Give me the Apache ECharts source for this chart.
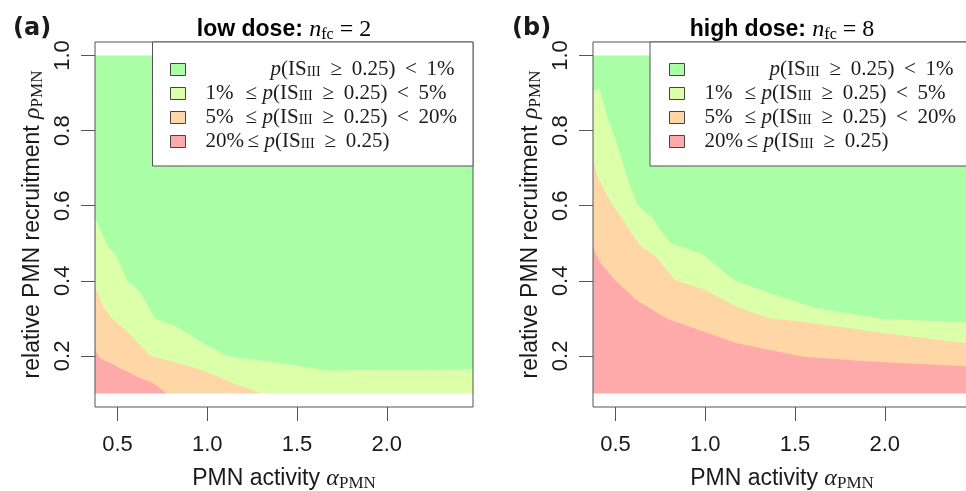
<!DOCTYPE html>
<html lang="en">
<head>
<meta charset="UTF-8">
<title>PMN activity vs recruitment regions</title>
<script src="https://cdn.jsdelivr.net/npm/echarts@6/dist/echarts.min.js"></script>
<style>
  html, body { margin: 0; padding: 0; background: #fff; }
  #chart { width: 966px; height: 491px; }
</style>
</head>
<body>
<div id="chart"></div>
<script>
// axis ranges and ticks (same for both panels)
var xRange = [0.375, 2.48];
var yRange = [0.064, 1.036];
var xTicks = [0.5, 1.0, 1.5, 2.0];
var yTicks = [0.2, 0.4, 0.6, 0.8, 1.0];
var yFloor = [0.1, 0.1];
var yCeil = [1.0, 1.0];

// region names (legend order: green, yellow, orange, red)
var regionNames = ['lt1', 'lt5', 'lt20', 'ge20'];
var regionColors = ['#aaffa6', '#dcffaa', '#ffd6a6', '#ffaaaa'];

// panel (a) low dose, upper edge of each band
var lowYellowX = [0.375, 0.404, 0.45, 0.497, 0.552, 0.626, 0.71, 0.831, 0.979, 1.109, 1.406, 1.675, 1.963, 2.48];
var lowYellowY = [0.57, 0.535, 0.491, 0.464, 0.402, 0.371, 0.30, 0.278, 0.234, 0.20, 0.181, 0.161, 0.163, 0.165];
var lowOrangeX = [0.375, 0.422, 0.469, 0.533, 0.626, 0.682, 0.831, 0.998, 1.146, 1.304];
var lowOrangeY = [0.383, 0.331, 0.30, 0.274, 0.229, 0.20, 0.182, 0.158, 0.127, 0.1];
var lowRedX = [0.375, 0.404, 0.441, 0.533, 0.626, 0.70, 0.775];
var lowRedY = [0.216, 0.194, 0.185, 0.163, 0.141, 0.127, 0.1];

// panel (b) high dose
var highYellowX = [0.375, 0.41, 0.457, 0.503, 0.559, 0.62, 0.66, 0.70, 0.75, 0.81, 0.9, 0.99, 1.16, 1.36, 1.62, 2.0, 2.48];
var highYellowY = [0.905, 0.912, 0.832, 0.774, 0.686, 0.604, 0.585, 0.571, 0.535, 0.50, 0.486, 0.469, 0.402, 0.367, 0.327, 0.298, 0.29];
var highOrangeX = [0.375, 0.40, 0.467, 0.541, 0.636, 0.70, 0.726, 0.831, 0.998, 1.175, 1.36, 1.546, 2.01, 2.48];
var highOrangeY = [0.73, 0.677, 0.615, 0.562, 0.495, 0.473, 0.464, 0.402, 0.376, 0.331, 0.30, 0.291, 0.26, 0.232];
var highRedX = [0.375, 0.412, 0.496, 0.617, 0.784, 0.989, 1.175, 1.36, 1.546, 1.918, 2.48];
var highRedY = [0.491, 0.451, 0.402, 0.349, 0.30, 0.265, 0.234, 0.216, 0.198, 0.185, 0.172];

var sans = 'Liberation Sans';
var serif = 'Liberation Serif';
var ink = '#1a1a1a';
var boxColor = '#555';

function pairs(xs, ys) {
  return xs.map(function (x, i) { return [x, ys[i]]; });
}

function band(name, xs, ys, color, idx) {
  return {
    type: 'line', name: name, xAxisIndex: idx, yAxisIndex: idx,
    data: pairs(xs, ys), symbol: 'none', showSymbol: false, silent: true,
    lineStyle: { width: 0 }, itemStyle: { color: color },
    areaStyle: { color: color, opacity: 1, origin: 'start' },
    animation: false
  };
}

function panelSeries(idx, yel, ora, red) {
  return [
    band(regionNames[0], xRange, yCeil, regionColors[0], idx),
    band(regionNames[1], yel[0], yel[1], regionColors[1], idx),
    band(regionNames[2], ora[0], ora[1], regionColors[2], idx),
    band(regionNames[3], red[0], red[1], regionColors[3], idx),
    band('floor', xRange, yFloor, '#ffffff', idx)
  ];
}

var nameRich = {
  t: { fontFamily: sans, fontSize: 23, lineHeight: 26, color: ink },
  g: { fontFamily: serif, fontStyle: 'italic', fontSize: 24, lineHeight: 26, color: ink },
  s: { fontFamily: serif, fontSize: 17, lineHeight: 11, verticalAlign: 'bottom', color: ink }
};

function xAxisFor(idx) {
  return {
    type: 'value', gridIndex: idx, min: xRange[0], max: xRange[1],
    axisLine: { show: false }, splitLine: { show: false },
    axisTick: { show: true, length: 14, customValues: xTicks, lineStyle: { color: boxColor } },
    axisLabel: {
      customValues: xTicks, margin: 27, fontSize: 22, fontFamily: sans, color: ink,
      formatter: function (v) { return v.toFixed(1); }
    },
    name: '{t|PMN activity }{g|α}{s|PMN}', nameLocation: 'middle', nameGap: 59,
    nameTextStyle: { rich: nameRich }
  };
}

function yAxisFor(idx) {
  return {
    type: 'value', gridIndex: idx, min: yRange[0], max: yRange[1],
    axisLine: { show: false }, splitLine: { show: false },
    axisTick: { show: true, length: 14, customValues: yTicks, lineStyle: { color: boxColor } },
    axisLabel: {
      customValues: yTicks, rotate: 90, margin: 21, fontSize: 22, fontFamily: sans, color: ink,
      formatter: function (v) { return v.toFixed(1); }
    },
    name: '{t|relative PMN recruitment }{g|ρ}{s|PMN}', nameLocation: 'middle', nameRotate: 90, nameGap: 49,
    nameTextStyle: { rich: nameRich }
  };
}

var legendRich = {
  g1: { width: 80 },
  g: { width: 15 },
  c: { width: 40 },
  d: { width: 42 },
  le: { width: 17 },
  i: { fontStyle: 'italic' },
  m: {},
  r: { width: 31, align: 'center' },
  s: { fontSize: 14, lineHeight: 10, verticalAlign: 'bottom' }
};
var legendText = {
  lt1: '{g1| }{i|p}{m|(IS}{s|III}{r|≥}{m|0.25)}{r|<}{m|1%}',
  lt5: '{g| }{c|1%}{le|≤}{i|p}{m|(IS}{s|III}{r|≥}{m|0.25)}{r|<}{m|5%}',
  lt20: '{g| }{c|5%}{le|≤}{i|p}{m|(IS}{s|III}{r|≥}{m|0.25)}{r|<}{m|20%}',
  ge20: '{g| }{d|20%}{le|≤}{i|p}{m|(IS}{s|III}{r|≥}{m|0.25)}'
};

function legendFor(left) {
  return {
    data: regionNames, orient: 'vertical', left: left, top: 59, padding: 0,
    itemGap: 3, itemWidth: 15, itemHeight: 12, icon: 'rect', selectedMode: false, z: 60,
    itemStyle: { borderColor: '#444', borderWidth: 1 },
    formatter: function (n) { return legendText[n]; },
    textStyle: { fontFamily: serif, fontSize: 21, lineHeight: 20, color: ink, rich: legendRich }
  };
}

function titleText(x, label, n) {
  return {
    type: 'text', x: x, y: 30, z: 70,
    style: {
      text: '{b|' + label + ' }{i|n}{s|fc}{m| = ' + n + '}',
      align: 'center', verticalAlign: 'middle',
      rich: {
        b: { fontFamily: sans, fontWeight: 'bold', fontSize: 23, lineHeight: 26, color: ink },
        i: { fontFamily: serif, fontStyle: 'italic', fontSize: 24, lineHeight: 26, color: ink },
        s: { fontFamily: serif, fontSize: 16, lineHeight: 10, verticalAlign: 'bottom', color: ink },
        m: { fontFamily: serif, fontSize: 24, lineHeight: 26, color: ink }
      }
    }
  };
}

function gridAt(left) {
  return {
    left: left, top: 42, width: 378, height: 365, outerBoundsMode: 'none', containLabel: false,
    show: true, borderColor: boxColor, borderWidth: 1, backgroundColor: 'transparent', z: 10
  };
}

var option = {
  backgroundColor: '#fff',
  animation: false,
  grid: [gridAt(95), gridAt(593)],
  xAxis: [xAxisFor(0), xAxisFor(1)],
  yAxis: [yAxisFor(0), yAxisFor(1)],
  legend: [legendFor(170), legendFor(669)],
  graphic: [
    { type: 'rect', z: 50, shape: { x: 152.5, y: 42, width: 320.5, height: 124 }, style: { fill: '#fff', stroke: boxColor, lineWidth: 1 } },
    { type: 'rect', z: 50, shape: { x: 650, y: 42, width: 330, height: 124 }, style: { fill: '#fff', stroke: boxColor, lineWidth: 1 } },
    { type: 'text', x: 13, y: 29, z: 70, style: { text: '(a)', fontFamily: 'DejaVu Sans', fontWeight: 'bold', fontSize: 24, fill: ink, verticalAlign: 'middle' } },
    { type: 'text', x: 512, y: 29, z: 70, style: { text: '(b)', fontFamily: 'DejaVu Sans', fontWeight: 'bold', fontSize: 24, fill: ink, verticalAlign: 'middle' } },
    titleText(284, 'low dose:', 2),
    titleText(782, 'high dose:', 8)
  ],
  series: panelSeries(0, [lowYellowX, lowYellowY], [lowOrangeX, lowOrangeY], [lowRedX, lowRedY])
    .concat(panelSeries(1, [highYellowX, highYellowY], [highOrangeX, highOrangeY], [highRedX, highRedY]))
};

var chart = echarts.init(document.getElementById('chart'));
chart.setOption(option);
</script>
</body>
</html>
